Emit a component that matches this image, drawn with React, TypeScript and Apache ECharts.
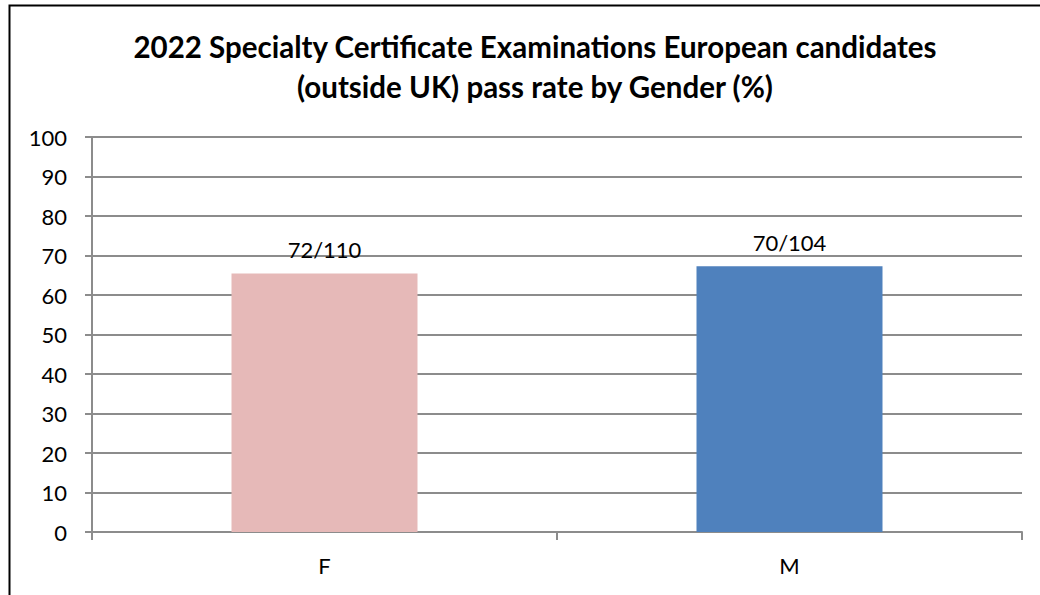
import React, { useEffect, useRef } from "react";
import * as echarts from "echarts";

const categories = ["F", "M"];
const passRates = [65.45, 67.31];
const passLabels = ["72/110", "70/104"];
const barColors = ["#E6B9B8", "#4F81BD"];
const titleText = "2022 Specialty Certificate Examinations European candidates\n(outside UK) pass rate by Gender (%)";

export default function App() {
  const ref = useRef<HTMLDivElement>(null);
  useEffect(() => {
    const chart = echarts.init(ref.current!, undefined, { renderer: "svg" });
    const font = "Lato, 'Open Sans', sans-serif";
    chart.setOption({
      animation: false,
      backgroundColor: "#ffffff",
      title: {
        text: titleText,
        left: 530,
        textAlign: "center",
        top: 21,
        textStyle: { fontFamily: font, fontSize: 29.5, fontWeight: "bold", color: "#000", lineHeight: 40 },
      },
      graphic: [
        {
          type: "rect",
          shape: { x: 9.5, y: 5.5, width: 1200, height: 800 },
          style: { fill: "none", stroke: "#000", lineWidth: 2 },
          silent: true,
        },
      ],
      grid: { left: 92, right: 18, top: 137, bottom: 63, containLabel: false },
      xAxis: {
        type: "category",
        data: categories,
        axisLine: { show: true, lineStyle: { color: "#8c8c8c", width: 2 } },
        axisTick: { show: true, length: 8, lineStyle: { color: "#8c8c8c", width: 2 } },
        axisLabel: { fontFamily: font, fontSize: 22, color: "#000", margin: 22 },
      },
      yAxis: {
        type: "value",
        min: 0,
        max: 100,
        interval: 10,
        axisLine: { show: true, lineStyle: { color: "#8c8c8c", width: 2 } },
        axisTick: { show: true, length: 7, lineStyle: { color: "#8c8c8c", width: 2 } },
        splitLine: { show: true, lineStyle: { color: "#8c8c8c", width: 2 } },
        axisLabel: { fontFamily: font, fontSize: 22, color: "#000", margin: 25 },
      },
      series: [
        {
          type: "bar",
          barWidth: "40%",
          data: passRates.map((v, i) => ({
            value: v,
            itemStyle: { color: barColors[i] },
            label: { formatter: passLabels[i] },
          })),
          label: {
            show: true,
            position: "top",
            distance: 13,
            fontFamily: font,
            fontSize: 22,
            color: "#000",
          },
        },
      ],
    });
    return () => chart.dispose();
  }, []);
  return (
    <div
      ref={ref}
      style={{ position: "fixed", left: 0, top: 0, width: 1040, height: 595 }}
    />
  );
}
